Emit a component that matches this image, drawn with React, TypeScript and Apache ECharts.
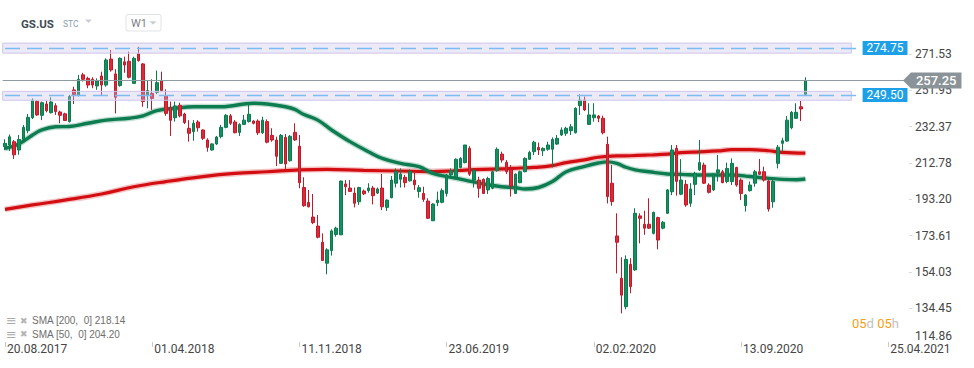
import React, { useEffect, useRef } from 'react';
import * as echarts from 'echarts';

// ---------- data ----------
const symbol = 'GS.US';
const weekCount = 197; // weekly categories shown on the time axis
const firstWeekUTC = Date.UTC(2017, 7, 20);
const tickStep = 32;
const tickLabels = ['20.08.2017', '01.04.2018', '11.11.2018', '23.06.2019', '02.02.2020', '13.09.2020', '25.04.2021'];
const yTicks = [134.45, 154.03, 173.61, 193.2, 212.78, 232.37, 251.95, 271.53];
const yBottomLabel = 114.86;

const resistance = 274.75;
const support = 249.5;
const lastPrice = 257.25;
const resistanceBand = [272.0, 277.4];
const supportBand = [246.6, 251.4];
const sma200Last = 218.14;
const sma50Last = 204.2;

// [open, close, low, high]
const ohlc: number[][] = [
  [221.6, 223.4, 219.7, 225.6], [222.5, 226.9, 219.3, 228.2], [224.3, 217.2, 215.0, 225.2], [219.8, 225.5, 217.2, 227.9],
  [225.5, 232.0, 224.3, 233.3], [230.2, 237.4, 228.8, 239.2], [237.2, 246.7, 236.5, 247.6], [245.9, 238.7, 238.2, 246.7],
  [238.5, 245.3, 235.9, 245.9], [244.6, 241.0, 240.1, 246.3], [239.9, 245.7, 239.5, 248.2], [243.7, 240.5, 238.7, 245.0],
  [240.3, 238.5, 234.2, 241.0], [239.3, 235.7, 235.4, 239.9], [235.1, 248.6, 234.6, 249.5], [252.2, 249.5, 244.6, 253.9],
  [249.5, 257.9, 248.6, 260.3], [260.3, 257.9, 256.7, 261.4], [258.4, 254.8, 253.1, 259.3], [257.9, 254.8, 253.1, 259.0],
  [254.3, 257.1, 252.2, 258.4], [259.7, 254.8, 249.5, 262.0], [254.8, 268.3, 253.9, 269.2], [268.8, 262.9, 262.0, 273.7],
  [260.8, 248.2, 239.5, 263.3], [254.5, 269.2, 253.9, 269.7], [267.3, 265.6, 261.4, 270.1], [267.6, 259.0, 258.4, 272.8],
  [255.7, 269.2, 255.4, 270.1], [271.6, 268.0, 267.4, 275.4], [266.2, 245.9, 243.1, 266.6], [249.5, 251.8, 242.3, 257.5],
  [250.3, 247.6, 241.4, 257.9], [250.9, 256.1, 249.9, 262.6], [257.1, 251.8, 251.2, 262.0], [249.1, 239.5, 238.2, 252.5],
  [242.7, 235.8, 227.4, 245.9], [237.2, 243.5, 235.1, 245.9], [243.9, 238.2, 237.4, 245.3], [239.2, 234.6, 233.8, 239.9],
  [231.5, 228.8, 224.3, 235.9], [229.7, 234.2, 224.8, 235.9], [234.9, 231.8, 229.7, 235.9], [230.6, 226.1, 225.2, 231.0],
  [225.2, 221.2, 218.9, 226.1], [219.8, 223.1, 219.5, 223.4], [223.1, 226.8, 222.5, 227.4], [227.0, 232.0, 226.1, 233.3],
  [232.0, 238.5, 231.5, 239.2], [238.2, 234.2, 233.3, 239.2], [234.9, 229.1, 228.8, 235.9], [229.3, 233.6, 227.4, 234.2],
  [233.6, 235.9, 233.3, 238.7], [235.1, 239.1, 234.6, 244.6], [235.4, 234.2, 233.6, 235.9], [235.4, 229.1, 227.9, 236.3],
  [229.1, 235.9, 228.4, 237.7], [235.1, 224.0, 223.4, 236.3], [227.7, 225.2, 224.3, 231.5], [225.2, 216.4, 211.2, 227.0],
  [212.6, 227.7, 212.3, 228.4], [226.6, 212.3, 209.4, 228.4], [214.0, 227.2, 213.6, 227.9], [229.3, 225.2, 224.8, 234.2],
  [221.9, 202.2, 199.2, 227.9], [199.6, 189.8, 189.2, 205.1], [191.6, 189.2, 188.9, 198.3], [183.7, 180.7, 179.9, 196.1],
  [178.8, 172.8, 172.2, 184.8], [170.1, 160.3, 160.0, 174.9], [158.8, 166.0, 152.8, 166.9], [165.6, 176.2, 162.9, 177.1],
  [174.3, 177.7, 173.1, 178.5], [174.1, 203.1, 174.0, 203.3], [201.5, 200.0, 195.5, 203.6], [199.3, 197.5, 197.2, 203.6],
  [196.6, 191.1, 188.9, 199.6], [191.9, 199.6, 190.2, 200.0], [197.7, 196.2, 195.5, 198.5], [197.9, 199.3, 196.8, 201.9],
  [199.3, 195.2, 190.5, 200.4], [196.6, 198.8, 196.1, 199.6], [199.3, 189.2, 187.4, 206.9], [188.9, 192.8, 187.0, 193.2],
  [194.1, 203.6, 193.8, 205.8], [201.9, 208.3, 199.6, 209.9], [204.0, 206.8, 199.6, 209.9], [205.1, 202.2, 199.6, 206.4],
  [203.2, 208.3, 202.8, 209.4], [203.6, 201.1, 198.3, 207.6], [197.4, 199.5, 194.1, 200.9], [196.4, 193.2, 191.9, 200.0],
  [192.3, 183.0, 182.6, 193.8], [181.7, 190.7, 181.5, 191.1], [191.4, 192.8, 189.6, 197.4], [191.6, 197.9, 191.1, 199.1],
  [196.4, 206.4, 194.7, 206.9], [206.4, 208.7, 205.1, 209.9], [205.4, 214.8, 205.1, 215.3], [210.4, 215.3, 209.9, 215.9],
  [213.0, 222.5, 212.6, 222.5], [220.7, 206.8, 205.8, 221.9], [203.6, 208.7, 199.6, 209.9], [203.6, 199.2, 194.1, 205.4],
  [204.0, 196.4, 196.1, 204.5], [198.3, 204.5, 196.1, 205.4], [199.2, 208.1, 198.6, 208.7], [208.7, 220.2, 208.1, 221.2],
  [217.6, 214.4, 213.0, 218.9], [213.2, 208.1, 206.8, 214.4], [209.4, 200.4, 194.7, 211.7], [196.4, 206.8, 196.1, 207.2],
  [202.2, 208.1, 201.9, 208.7], [208.1, 215.3, 207.8, 215.9], [214.8, 218.5, 214.4, 219.4], [218.9, 224.0, 217.1, 224.8],
  [221.2, 219.8, 217.1, 223.8], [219.4, 220.7, 216.6, 221.2], [220.2, 222.5, 219.4, 224.3], [220.2, 225.5, 210.4, 226.6],
  [223.0, 226.1, 222.5, 227.9], [227.9, 230.6, 227.4, 232.0], [228.8, 231.5, 227.4, 232.3], [230.2, 232.3, 227.9, 233.8],
  [229.1, 242.3, 228.7, 242.8], [243.7, 246.7, 238.7, 249.8], [246.7, 241.4, 240.8, 248.6], [233.6, 238.7, 233.3, 245.0],
  [237.2, 238.7, 235.1, 245.0], [238.1, 236.9, 234.8, 238.7], [236.9, 229.1, 228.2, 238.3], [222.9, 194.7, 191.0, 227.0],
  [201.9, 192.0, 189.8, 211.7], [173.5, 170.1, 153.3, 185.7], [150.7, 141.6, 131.8, 162.0], [135.4, 160.9, 134.0, 163.0],
  [158.2, 146.2, 142.6, 161.5], [155.2, 185.7, 154.7, 188.4], [184.3, 183.0, 169.5, 185.7], [179.8, 177.7, 174.1, 187.1],
  [179.8, 177.7, 177.3, 193.8], [174.9, 186.2, 174.3, 186.6], [183.4, 171.3, 166.3, 183.9], [177.7, 180.9, 177.1, 181.6],
  [185.7, 198.3, 185.3, 198.8], [197.3, 219.8, 195.5, 222.5], [220.7, 202.9, 195.2, 222.5], [196.0, 203.6, 195.5, 214.9],
  [201.3, 190.2, 189.2, 203.6], [191.1, 198.8, 189.2, 201.9], [201.3, 207.2, 195.5, 208.1], [209.1, 213.0, 208.5, 225.2],
  [211.7, 201.9, 201.5, 213.0], [200.9, 197.0, 196.4, 201.9], [198.3, 206.8, 197.7, 207.2], [207.6, 209.1, 202.8, 217.1],
  [208.1, 202.2, 201.9, 209.1], [202.8, 209.9, 201.9, 213.0], [202.8, 212.6, 200.9, 215.3], [210.4, 200.9, 200.0, 210.8],
  [203.6, 196.4, 192.8, 204.5], [189.8, 195.6, 186.6, 196.0], [197.9, 200.9, 197.4, 202.8], [201.9, 208.1, 200.0, 209.1],
  [208.1, 206.7, 206.3, 215.0], [208.1, 203.6, 202.8, 210.8], [203.1, 188.0, 186.6, 203.6], [191.9, 202.8, 188.7, 204.5],
  [212.6, 221.3, 209.9, 222.5], [223.4, 224.8, 218.9, 226.4], [224.6, 235.9, 224.3, 238.1], [231.8, 240.1, 231.0, 240.8],
  [236.9, 240.1, 236.5, 245.0], [243.1, 241.9, 235.4, 246.3], [249.8, 257.25, 249.1, 259.0],
];

// [week index, value]
const sma200Points: number[][] = [
  [0, 187.8], [6, 190.2], [13, 192.8], [21, 196.1], [28, 200.0], [35, 202.8], [43, 205.5], [50, 207.2],
  [57, 208.1], [64, 209.1], [70, 209.4], [78, 208.8], [86, 208.5], [93, 208.2], [97, 208.5], [100, 209.0],
  [104, 209.4], [108, 209.6], [112, 210.1], [115, 210.4], [119, 211.4], [122, 213.0], [126, 214.5], [129, 215.9],
  [133, 216.6], [136, 216.7], [140, 217.1], [144, 217.6], [147, 218.4], [151, 218.8], [155, 219.3], [158, 220.0],
  [162, 220.0], [166, 219.4], [169, 218.5], [174, 218.1],
];
const sma50Points: number[][] = [
  [0, 220.6], [3, 223.0], [6, 227.9], [8, 230.6], [11, 232.3], [14, 232.5], [18, 234.2], [22, 235.9],
  [27, 236.9], [30, 238.2], [33, 241.0], [37, 242.3], [41, 243.1], [47, 243.1], [54, 245.0], [57, 244.6],
  [61, 243.1], [63, 241.7], [65, 238.9], [68, 235.9], [71, 230.6], [75, 224.3], [79, 218.9], [82, 215.3],
  [86, 212.6], [90, 210.8], [93, 207.2], [97, 205.1], [100, 203.6], [104, 201.5], [108, 200.0], [111, 199.5],
  [113, 198.8], [116, 199.6], [119, 202.8], [122, 208.1], [126, 211.0], [129, 212.8], [131, 213.4], [133, 212.6],
  [135, 210.5], [137, 209.1], [140, 208.1], [144, 206.9], [147, 206.7], [151, 206.3], [155, 206.3], [158, 206.3],
  [162, 205.5], [166, 204.5], [169, 204.0], [172, 203.8], [174, 204.2],
];

// ---------- helpers ----------
const pad2 = (n: number) => (n < 10 ? '0' + n : '' + n);
const categories: string[] = [];
for (let i = 0; i < weekCount; i++) {
  const d = new Date(firstWeekUTC + i * 7 * 86400000);
  categories.push(`${pad2(d.getUTCDate())}.${pad2(d.getUTCMonth() + 1)}.${d.getUTCFullYear()}`);
}

const GREEN = '#0d7c50';
const RED = '#d20e12';
const BAND_END = 184;
const LEVEL_END = 186;
const PRICE_END = 195;

const option: any = {
  animation: false,
  backgroundColor: '#ffffff',
  textStyle: { fontFamily: 'Roboto' },
  grid: { left: 2.7, right: 65.1, top: 36, bottom: 26, containLabel: false },
  xAxis: {
    type: 'category',
    data: categories,
    boundaryGap: true,
    axisLine: { show: false },
    splitLine: { show: false },
    axisTick: {
      show: true,
      alignWithLabel: true,
      interval: (i: number) => i % tickStep === 0,
      length: 5,
      lineStyle: { color: '#c9c9c9' },
    },
    axisLabel: {
      interval: (i: number) => i % tickStep === 0,
      formatter: (v: string, i: number) => tickLabels[i / tickStep] ?? v,
      align: 'left',
      margin: 1,
      padding: [0, 0, 0, 2],
      color: '#454545',
      fontSize: 12,
      fontFamily: 'Roboto',
    },
  },
  yAxis: {
    type: 'value',
    position: 'right',
    min: 116.358,
    max: 281.228,
    axisLine: { show: false },
    splitLine: { show: false },
    axisTick: { show: true, customValues: yTicks, length: 3, lineStyle: { color: '#dadada' } },
    axisLabel: {
      customValues: yTicks,
      formatter: (v: number) => v.toFixed(2),
      margin: 6,
      color: '#454545',
      fontSize: 12,
      fontFamily: 'Roboto',
    },
  },
  series: [
    {
      type: 'line', data: sma200Points, smooth: 0.4, symbol: 'none', z: 0, silent: true,
      lineStyle: { color: RED, width: 6, opacity: 0.25 },
    },
    {
      type: 'line', data: sma200Points, smooth: 0.4, symbol: 'none', z: 0, silent: true,
      lineStyle: { color: RED, width: 3.2 },
    },
    {
      type: 'line', data: sma50Points, smooth: 0.4, symbol: 'none', z: 0, silent: true,
      lineStyle: { color: GREEN, width: 6, opacity: 0.25 },
    },
    {
      type: 'line', data: sma50Points, smooth: 0.4, symbol: 'none', z: 0, silent: true,
      lineStyle: { color: GREEN, width: 3.4 },
    },
    {
      type: 'candlestick',
      data: ohlc,
      barWidth: 3,
      z: 0,
      silent: true,
      itemStyle: {
        color: '#13905f',
        color0: '#dc2a38',
        borderColor: '#0c7a4e',
        borderColor0: '#c01a2a',
        borderWidth: 1,
      },
    },
    {
      // annotation host: bands, levels, last price
      type: 'line',
      data: [],
      z: 3,
      silent: true,
      markArea: {
        silent: true,
        z: 3,
        label: { show: false },
        itemStyle: { color: 'rgba(200, 190, 236, 0.34)', borderColor: '#d0c6ea', borderWidth: 1 },
        data: [
          [{ yAxis: resistanceBand[1] }, { xAxis: BAND_END, yAxis: resistanceBand[0] }],
          [{ yAxis: supportBand[1] }, { xAxis: BAND_END, yAxis: supportBand[0] }],
        ],
      },
      markLine: {
        silent: true,
        z: 5,
        symbol: ['none', 'none'],
        data: [
          [
            {
              xAxis: 0, yAxis: resistance,
              lineStyle: { color: '#7dbcef', width: 1.3, type: [15, 7] },
              label: {
                show: true, position: 'end', distance: 2, formatter: resistance.toFixed(2),
                backgroundColor: '#1da0e7', color: '#ffffff', fontSize: 12, fontFamily: 'Roboto',
                padding: [0, 4], lineHeight: 14,
              },
            },
            { xAxis: LEVEL_END, yAxis: resistance },
          ],
          [
            {
              xAxis: 0, yAxis: support,
              lineStyle: { color: '#7dbcef', width: 1.3, type: [15, 7] },
              label: {
                show: true, position: 'end', distance: 2, formatter: support.toFixed(2),
                backgroundColor: '#1da0e7', color: '#ffffff', fontSize: 12, fontFamily: 'Roboto',
                padding: [0, 4], lineHeight: 14,
              },
            },
            { xAxis: LEVEL_END, yAxis: support },
          ],
          {
            yAxis: lastPrice,
            lineStyle: { color: '#8e9ba1', width: 1, type: 'solid' },
            label: {
              show: true, position: 'end', distance: 2, formatter: lastPrice.toFixed(2),
              backgroundColor: '#8a9397', color: '#ffffff', fontSize: 13, fontWeight: 500,
              fontFamily: 'Roboto', padding: [0, 5], lineHeight: 16,
            },
          },
        ],
      },
      markPoint: {
        silent: true,
        z: 6,
        data: [
          {
            coord: [PRICE_END, lastPrice],
            symbol: 'triangle',
            symbolSize: [16, 8],
            symbolRotate: 90,
            symbolOffset: [5, 0],
            itemStyle: { color: '#8a9397' },
            label: { show: false },
          },
        ],
      },
    },
  ],
  graphic: [
    { type: 'text', x: 21, y: 23.5, style: { text: symbol, fontSize: 11.5, fontWeight: 'bold', fontFamily: 'Roboto', fill: '#3e4a56', verticalAlign: 'middle' } },
    { type: 'text', x: 63, y: 24, style: { text: 'STC', fontSize: 8.5, fontFamily: 'Roboto', fill: '#8a9db2', verticalAlign: 'middle' } },
    { type: 'polygon', shape: { points: [[85, 19.5], [92, 19.5], [88.5, 23]] }, style: { fill: '#c9ced3' } },
    { type: 'rect', shape: { x: 126, y: 14.5, width: 35, height: 16.5, r: 2 }, style: { fill: '#ffffff', stroke: '#dfe3e6', lineWidth: 1 } },
    { type: 'text', x: 131, y: 23.3, style: { text: 'W1', fontSize: 11, fontFamily: 'Roboto', fill: '#7b8086', verticalAlign: 'middle' } },
    { type: 'polygon', shape: { points: [[149.5, 21.3], [156.5, 21.3], [153, 24.8]] }, style: { fill: '#c9ced3' } },
    { type: 'text', x: 915, y: 335.5, style: { text: yBottomLabel.toFixed(2), fontSize: 12, fontFamily: 'Roboto', fill: '#454545', verticalAlign: 'middle' } },
    { type: 'text', x: 6, y: 320.5, style: { text: '≡', fontSize: 13, fontFamily: 'DejaVu Sans', fill: '#a9a9a9', verticalAlign: 'middle' } },
    { type: 'text', x: 20, y: 320.5, style: { text: '✖', fontSize: 9, fontFamily: 'DejaVu Sans', fill: '#b3b3b3', verticalAlign: 'middle' } },
    { type: 'text', x: 32, y: 320.5, style: { text: `SMA [200,\u00a0 0] ${sma200Last.toFixed(2)}`, fontSize: 10, fontFamily: 'Liberation Sans', fill: '#6e6e6e', verticalAlign: 'middle' } },
    { type: 'text', x: 6, y: 334, style: { text: '≡', fontSize: 13, fontFamily: 'DejaVu Sans', fill: '#a9a9a9', verticalAlign: 'middle' } },
    { type: 'text', x: 20, y: 334, style: { text: '✖', fontSize: 9, fontFamily: 'DejaVu Sans', fill: '#b3b3b3', verticalAlign: 'middle' } },
    { type: 'text', x: 32, y: 334, style: { text: `SMA [50,\u00a0 0] ${sma50Last.toFixed(2)}`, fontSize: 10, fontFamily: 'Liberation Sans', fill: '#6e6e6e', verticalAlign: 'middle' } },
    {
      type: 'text', x: 852, y: 323,
      style: {
        text: '{o|05}{g|d} {o|05}{g|h}',
        verticalAlign: 'middle',
        fontSize: 13,
        fontFamily: 'Roboto',
        rich: {
          o: { fill: '#f6a01a', fontSize: 13, fontFamily: 'Roboto' },
          g: { fill: '#c2c2c2', fontSize: 13, fontFamily: 'Roboto' },
        },
      },
    },
  ],
};

export default function App() {
  const ref = useRef<HTMLDivElement>(null);
  useEffect(() => {
    if (!ref.current) return;
    const chart = echarts.init(ref.current, null, { renderer: 'svg' });
    chart.setOption(option);
    return () => chart.dispose();
  }, []);
  return (
    <div
      ref={ref}
      style={{ position: 'absolute', left: 0, top: 0, width: 974, height: 368, background: '#ffffff' }}
    />
  );
}
